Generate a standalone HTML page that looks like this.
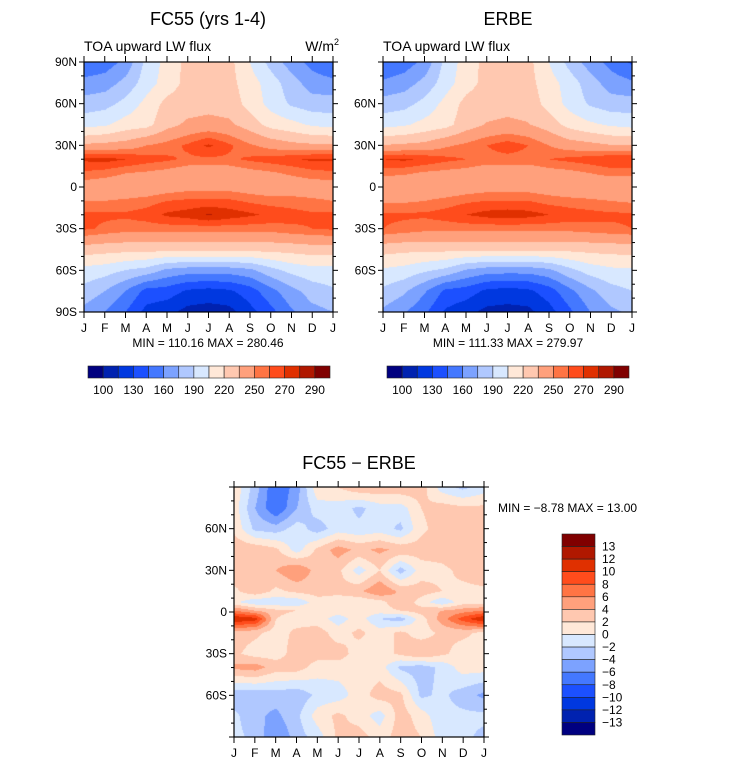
<!DOCTYPE html>
<html><head><meta charset="utf-8">
<style>
body{margin:0;background:#fff;width:733px;height:767px;position:relative;overflow:hidden;font-family:"Liberation Sans",sans-serif;}
canvas{position:absolute;}
svg{position:absolute;left:0;top:0;}
</style></head>
<body>
<canvas id="c1" width="249" height="250" style="left:84px;top:62px"></canvas>
<canvas id="c2" width="249" height="250" style="left:383px;top:62px"></canvas>
<canvas id="c3" width="250" height="250" style="left:234px;top:487px"></canvas>
<svg id="s" width="733" height="767"></svg>
<script>
const months=["J","F","M","A","M","J","J","A","S","O","N","D","J"];
const colors=["#000080","#0022b0","#0038e0","#1c50ff","#4478ff","#7ca2ff","#b0c8ff","#d8e8ff","#ffe8d8","#ffc8b0","#ffa07c","#ff7444","#ff4c1c","#e03000","#b01800","#800000"];
const levelsTop=[100,115,130,145,160,175,190,205,220,235,250,260,270,280,290];
const levelsDiff=[-13,-12,-10,-8,-6,-4,-2,0,2,4,6,8,10,12,13];
const topBarLabels=["100","130","160","190","220","250","270","290"];
const diffBarLabels=["13","12","10","8","6","4","2","0","\u22122","\u22124","\u22126","\u22128","\u221210","\u221212","\u221213"];
const latsTop=[90,75,60,45,30,20,10,0,-10,-20,-30,-45,-60,-75,-90];
const fc55=[
[148,152,165,195,210,225,228,225,205,185,168,155,145],
[165,168,180,198,212,225,228,225,212,198,182,168,165],
[182,185,195,210,225,228,230,228,215,200,188,182,182],
[200,203,212,215,230,238,240,238,228,215,210,203,200],
[238,240,242,250,255,262,272,262,252,245,240,238,238],
[272,274,270,265,262,258,258,258,262,265,268,272,272],
[258,255,250,248,245,240,240,240,245,248,252,256,258],
[242,240,238,238,242,245,245,245,242,240,240,242,242],
[250,250,252,255,260,262,262,262,258,255,255,252,250],
[262,262,262,265,272,275,281,276,272,268,264,262,262],
[262,258,255,255,255,255,255,255,255,255,258,260,262],
[228,226,225,225,225,225,225,225,225,225,226,228,228],
[200,197,190,185,172,168,168,168,172,185,195,200,200],
[185,175,160,140,138,128,125,128,138,155,170,182,188],
[170,160,145,125,120,110,108,110,125,140,158,170,175]];
const erbe=[
[146,152,165,195,212,225,228,225,205,185,168,155,143],
[163,168,180,198,214,225,228,225,212,198,182,168,163],
[182,185,195,210,225,228,230,228,215,200,188,182,182],
[200,203,210,215,228,236,238,236,228,215,208,203,200],
[236,238,240,248,253,260,266,260,250,243,240,236,236],
[270,272,268,263,260,256,256,256,260,263,266,270,270],
[254,252,248,246,244,240,240,240,244,246,250,254,254],
[236,236,236,237,241,244,244,244,241,238,238,236,236],
[248,248,250,254,258,260,260,260,256,254,252,250,248],
[262,262,262,265,270,274,276,274,270,266,264,262,262],
[260,257,254,254,254,254,254,254,254,254,256,258,260],
[226,224,224,224,224,224,224,224,224,224,225,226,226],
[203,200,193,187,174,168,167,167,172,186,197,202,203],
[187,178,162,142,138,127,124,127,138,156,172,184,190],
[172,162,148,128,120,111,110,111,124,142,160,172,178]];
const latsDiff=[90,75,60,45,30,15,7,1,-5,-15,-30,-40,-60,-75,-90];
const diff=[
[1.5,-3,-8,-5,1.5,2,3.5,3.5,3.5,3,-1,-2.5,-1],
[1,-4,-8,-4,-1,-1,-2.5,-1,-1,2,3,2.5,2.5],
[1.5,-2.5,-3,-1,-3,-1,-1.5,-1,-2.5,1.5,3,3,3],
[3.5,3.5,2.5,-1,2.5,5,3.5,4.5,3.5,3,3,3.5,2.5],
[3.5,2.5,4,6,3,2.5,-1,2,-3,1,1.5,2.5,3.5],
[1.5,3.5,1.5,2.5,3,2.5,3.5,6,3.5,3,2,1.5,1.5],
[0.5,-1.5,-1.5,-1.5,1,1,0.5,1,4,1,-1.5,1,1],
[6,4,2.5,2,1,1,1,1,2,3,4,5,6],
[12,11,2,1,1,-1,1,-2,-3,1,5,9,12],
[3,2.5,1,2.5,3,1,2.5,1,2.5,1,2.5,2.5,1.5],
[2.5,1,1,3,3,3,1,1,2.5,4,2.5,1,1],
[4.5,5,3,3,1,1,1,1,-2.5,-3,-1.5,1,1],
[-3.5,-3.5,-3,-3.5,-1.5,-1,1,3,2.5,-2.5,-1.5,-3,-4.5],
[-1.5,-3.5,-4.5,-2.5,1,2.5,1,-1,3,1,-1.5,-1.5,-1.5],
[-1.5,-2.5,-6,-3,-1,2.5,3,1,3,2,-1,-1.5,-2.5]];

function colorFor(v,lv){let i=0;while(i<lv.length&&v>=lv[i])i++;return colors[i];}
function interp(grid,lats,m,lat){
  let r=0;while(r<lats.length-2&&lat<lats[r+1])r++;
  const t=(lats[r]-lat)/(lats[r]-lats[r+1]);
  let c=Math.min(Math.floor(m),11);const u=m-c;
  const a=grid[r][c]*(1-u)+grid[r][c+1]*u, b=grid[r+1][c]*(1-u)+grid[r+1][c+1]*u;
  return a*(1-t)+b*t;
}
function drawField(id,grid,lats,lv){
  const cv=document.getElementById(id),ctx=cv.getContext('2d');
  const W=cv.width,H=cv.height;
  for(let y=0;y<H;y++)for(let x=0;x<W;x++){
    const m=x/(W-1)*12, lat=90-y/(H-1)*180;
    ctx.fillStyle=colorFor(interp(grid,lats,m,lat),lv);ctx.fillRect(x,y,1,1);
  }
}
drawField('c1',fc55,latsTop,levelsTop);
drawField('c2',erbe,latsTop,levelsTop);
drawField('c3',diff,latsDiff,levelsDiff);

const S=document.getElementById('s');const NS="http://www.w3.org/2000/svg";
function el(t,a,txt){const e=document.createElementNS(NS,t);for(const k in a)e.setAttribute(k,a[k]);if(txt!==undefined)e.textContent=txt;S.appendChild(e);return e;}
function axes(x0,y0,w,h,latLabels,prefix){
  const f=el('rect',{x:x0,y:y0,width:w,height:h,fill:'none',stroke:'#000','stroke-width':1.2});
  
  
  for(let i=0;i<13;i++){
    const x=x0+i*w/12;
    el('line',{x1:x,y1:y0,x2:x,y2:y0-6,stroke:'#000'});
    el('line',{x1:x,y1:y0+h,x2:x,y2:y0+h+6,stroke:'#000'});
    const t=el('text',{x:x,y:y0+h+20,'font-size':12,'text-anchor':'middle'},months[i]);
    
    
  }
  for(let lat=90;lat>=-90;lat-=10){
    const y=y0+(90-lat)/180*h, L=(lat%30===0)?5:3;
    el('line',{x1:x0,y1:y,x2:x0-L,y2:y,stroke:'#000'});
    el('line',{x1:x0+w,y1:y,x2:x0+w+L,y2:y,stroke:'#000'});
  }
  latLabels.forEach(([lat,s])=>{
    const t=el('text',{x:x0-7,y:y0+(90-lat)/180*h+4,'font-size':12,'text-anchor':'end'},s);
    
    
  });
}
axes(84,62,249,250,[[90,"90N"],[60,"60N"],[30,"30N"],[0,"0"],[-30,"30S"],[-60,"60S"],[-90,"90S"]],'fc55');
axes(383,62,249,250,[[60,"60N"],[30,"30N"],[0,"0"],[-30,"30S"],[-60,"60S"]],'erbe');
axes(234,487,250,250,[[60,"60N"],[30,"30N"],[0,"0"],[-30,"30S"],[-60,"60S"]],'diff');

function txt(x,y,s,size,anchor,name){const t=el('text',{x:x,y:y,'font-size':size,'text-anchor':anchor},s);
  
  return t;}
txt(208,25,"FC55 (yrs 1-4)",18,'middle','fc55-title');
txt(508,25,"ERBE",18,'middle','erbe-title');
txt(84,51,"TOA upward LW flux",14,'start','fc55-subtitle');
txt(383,51,"TOA upward LW flux",14,'start','erbe-subtitle');
const wm=txt(333,51,"W/m",14,'end','units-label');
const sup=document.createElementNS(NS,'tspan');sup.setAttribute('dy','-6');sup.setAttribute('font-size','9');sup.textContent="2";wm.appendChild(sup);
wm.setAttribute('x',339);
txt(208,347,"MIN = 110.16 MAX = 280.46",12,'middle','fc55-min-max');
txt(508,347,"MIN = 111.33 MAX = 279.97",12,'middle','erbe-min-max');
txt(359,469,"FC55 \u2212 ERBE",18,'middle','diff-title');
txt(498,512,"MIN =   \u22128.78 MAX =   13.00",12,'start','diff-min-max');

function hbar(x0,y0,w,h,prefix){
  const bw=w/16;
  for(let i=0;i<16;i++){
    const r=el('rect',{x:x0+i*bw,y:y0,width:bw,height:h,fill:colors[i],stroke:'#222','stroke-width':0.6});
    
    
  }
  topBarLabels.forEach((s,k)=>{txt(x0+(1+2*k)*bw,y0+h+16,s,12,'middle',prefix+'-colorbar-label');});
}
hbar(88,366,242,12,'fc55');
hbar(387,366,242,12,'erbe');
const vb=201/16;
for(let i=0;i<16;i++){
  const r=el('rect',{x:562,y:534+i*vb,width:33,height:vb,fill:colors[15-i],stroke:'#222','stroke-width':0.6});
  
  
}
diffBarLabels.forEach((s,k)=>{txt(602,534+(k+1)*vb+4,s,12,'start','diff-colorbar-label');});
</script>
</body></html>
